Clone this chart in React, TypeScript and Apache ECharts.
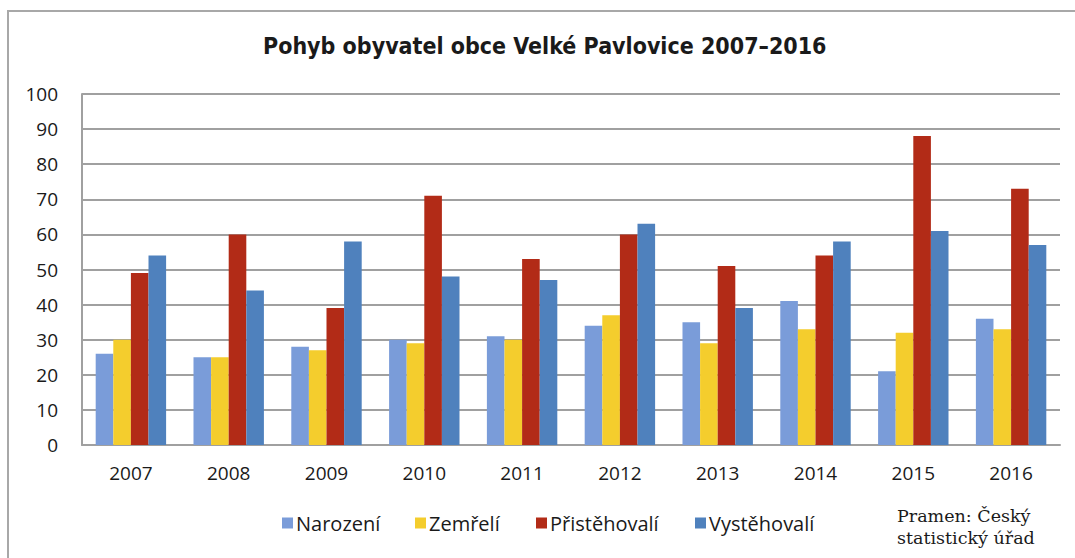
import React, { useEffect, useRef } from "react";
import * as echarts from "echarts";

const years = ["2007", "2008", "2009", "2010", "2011", "2012", "2013", "2014", "2015", "2016"];
const narozeni = [26, 25, 28, 30, 31, 34, 35, 41, 21, 36];
const zemreli = [30, 25, 27, 29, 30, 37, 29, 33, 32, 33];
const pristehovali = [49, 60, 39, 71, 53, 60, 51, 54, 88, 73];
const vystehovali = [54, 44, 58, 48, 47, 63, 39, 58, 61, 57];
const seriesNames = ["Narození", "Zemřelí", "Přistěhovalí", "Vystěhovalí"];
const seriesColors = ["#7a9cd9", "#f4cd2d", "#b22b17", "#4f81bd"];
const titleText = "Pohyb obyvatel obce Velké Pavlovice 2007–2016";
const sourceLines = ["Pramen: Český", "statistický úřad"];

const sansFont = "'Open Sans', 'Liberation Sans', sans-serif";
const titleFont = "'Liberation Sans Narrow', 'DejaVu Sans Condensed', 'Open Sans', sans-serif";
const legendLefts = [282, 415, 536, 695];

export default function App() {
  const ref = useRef<HTMLDivElement>(null);
  useEffect(() => {
    if (!ref.current) return;
    const chart = echarts.init(ref.current, undefined, { renderer: "svg" });
    const values = [narozeni, zemreli, pristehovali, vystehovali];
    chart.setOption({
      animation: false,
      backgroundColor: "#ffffff",
      title: {
        text: titleText,
        left: 263,
        top: 34,
        padding: 0,
        textStyle: { fontFamily: titleFont, fontSize: 23, fontWeight: "bold", color: "#1a1a1a" },
      },
      legend: seriesNames.map((name, i) => ({
        data: [name],
        left: legendLefts[i],
        top: 513,
        padding: 0,
        itemWidth: 11,
        itemHeight: 11,
        icon: "rect",
        textStyle: { fontFamily: sansFont, fontSize: 20, color: "#1a1a1a", padding: [0, 0, 0, -2] },
      })),
      grid: { left: 82, right: 15, top: 94, bottom: 113, containLabel: false },
      xAxis: {
        type: "category",
        data: years,
        axisLine: { show: true, lineStyle: { color: "#a0a0a0", width: 2 } },
        axisTick: { show: false },
        axisLabel: { fontFamily: sansFont, fontSize: 19, color: "#1a1a1a", margin: 18 },
      },
      yAxis: {
        type: "value",
        min: 0,
        max: 100,
        interval: 10,
        axisLine: { show: true, lineStyle: { color: "#a0a0a0", width: 2 } },
        axisTick: { show: false },
        axisLabel: { fontFamily: sansFont, fontSize: 19, color: "#1a1a1a", margin: 24 },
        splitLine: { show: true, lineStyle: { color: "#a0a0a0", width: 2 } },
      },
      series: seriesNames.map((name, i) => ({
        name,
        type: "bar",
        data: values[i],
        barGap: "0%",
        barCategoryGap: "28%",
        itemStyle: { color: seriesColors[i] },
      })),
      graphic: [
        {
          type: "rect",
          shape: { x: 8, y: 11, width: 1200, height: 700 },
          style: { fill: "none", stroke: "#a8a8a8", lineWidth: 2 },
          silent: true,
        },
        {
          type: "text",
          x: 897,
          y: 505,
          style: {
            text: sourceLines.join("\n"),
            fontFamily: "'DejaVu Serif', 'Liberation Serif', serif",
            fontSize: 17.5,
            lineHeight: 22,
            fill: "#1a1a1a",
          },
        },
      ],
    });
    return () => chart.dispose();
  }, []);
  return <div ref={ref} style={{ position: "absolute", left: 0, top: 0, width: 1075, height: 558 }} />;
}
